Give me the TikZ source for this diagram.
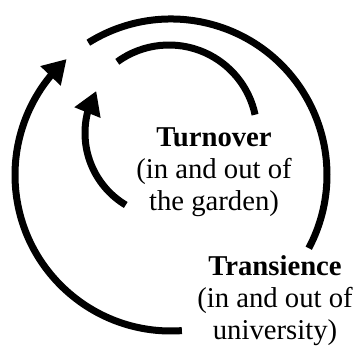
\documentclass[tikz,border=0pt]{standalone}
\usepackage{fontspec}
\setmainfont{Liberation Serif}
\usetikzlibrary{arrows.meta,bending}

\begin{document}
\begin{tikzpicture}[x=0.3mm, y=0.3mm]
	\tikzstyle{cyclearc}   = [line width=2.1mm]
	\tikzstyle{cyclearrow} = [line width=2.1mm, -{Triangle[length=7mm, width=8mm, flex]}]
	\tikzstyle{textblock}  = [align=center, inner sep=0pt, font=\fontsize{24.5}{27.2}\selectfont]

%	\draw[step=10, gray!50] (0,0) grid (360,347);
	\useasboundingbox (0,0) rectangle (360,347);

	\coordinate (outer) at (171, 172);
	\coordinate (inner) at (169, 214);

	\node[textblock] (turnover) at (214, 175) {\textbf{Turnover}\\(in and out of\\the garden)};
	\node[textblock] (transience) at (275, 46) {\textbf{Transience}\\(in and out of\\university)};

	\foreach \c/\r/\from/\to in {outer/156/122/-28, inner/88/126/12}
		\draw[cyclearc] (\c) ++(\from:\r) arc[start angle=\from, end angle=\to, radius=\r];

	\foreach \c/\r/\from/\to in {outer/156/274/132, inner/84/239/150}
		\draw[cyclearrow] (\c) ++(\from:\r) arc[start angle=\from, end angle=\to, radius=\r];
\end{tikzpicture}
\end{document}
